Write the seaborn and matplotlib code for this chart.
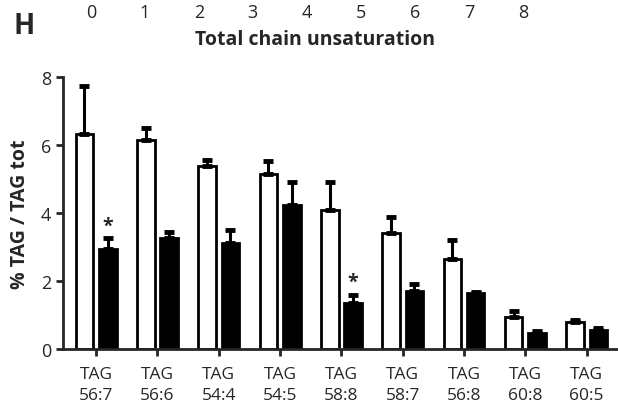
import numpy as np
import pandas as pd
import matplotlib
matplotlib.use("Agg")
import matplotlib.pyplot as plt
import matplotlib.transforms as mtransforms
import seaborn as sns

# Values
species = ["56:7", "56:6", "54:4", "54:5", "58:8", "58:7", "56:8", "60:8", "60:5"]
ctrl_mean = [6.32, 6.15, 5.38, 5.15, 4.09, 3.41, 2.65, 0.94, 0.79]
ctrl_err = [1.42, 0.35, 0.18, 0.38, 0.82, 0.47, 0.55, 0.18, 0.06]
treat_mean = [2.94, 3.26, 3.12, 4.24, 1.35, 1.71, 1.65, 0.47, 0.56]
treat_err = [0.32, 0.18, 0.38, 0.67, 0.24, 0.20, 0.02, 0.06, 0.06]
signif = [True, False, False, False, True, False, False, False, False]
unsat_ticks = [0, 1, 2, 3, 4, 5, 6, 7, 8]

sns.set_style("ticks")
plt.rcParams["font.family"] = ["Open Sans", "DejaVu Sans"]

labels = ["TAG\n" + s for s in species]
df = pd.DataFrame({
    "species": labels * 2,
    "value": ctrl_mean + treat_mean,
    "group": ["ctrl"] * len(labels) + ["treat"] * len(labels),
})

fig = plt.figure(figsize=(6.18, 4.10), dpi=100)
ax = fig.add_axes([0.102, 0.146, 0.896, 0.664])

sns.barplot(data=df, x="species", y="value", hue="group",
            palette={"ctrl": "white", "treat": "black"},
            width=0.76, gap=0.25, edgecolor="black", linewidth=2,
            errorbar=None, legend=False, ax=ax)

# upward-only error bars, drawn at the bar centres
for cont, errs in zip(ax.containers, [ctrl_err, treat_err]):
    xs = [p.get_x() + p.get_width() / 2 for p in cont.patches]
    ys = [p.get_height() for p in cont.patches]
    ax.errorbar(xs, ys, yerr=[np.zeros(len(errs)), errs], fmt="none",
                ecolor="black", elinewidth=2.2, capsize=3.5, capthick=3.5,
                zorder=1)

for p, e, s in zip(ax.containers[1].patches, treat_err, signif):
    if s:
        ax.text(p.get_x() + p.get_width() / 2, p.get_height() + e + 0.08, "*",
                ha="center", va="bottom", fontsize=14, fontweight="bold")

ax.set_ylim(0, 8)
ax.set_xlim(-0.54, 8.49)
ax.set_yticks([0, 2, 4, 6, 8])
ax.set_xlabel("")
ax.set_ylabel("% TAG / TAG tot", fontsize=14, fontweight="bold", labelpad=8)
ax.tick_params(axis="both", labelsize=13, width=2, length=5, direction="out")
ax.tick_params(axis="x", labelsize=12.5, pad=7)
for lab in ax.get_xticklabels():
    lab.set_linespacing(1.4)
for side in ["left", "bottom"]:
    ax.spines[side].set_linewidth(2)
sns.despine(ax=ax)

# top scale: total chain unsaturation
top = fig.add_axes([0.147, 0.945, 0.699, 0.001])
top.set_xlim(0, 8)
top.set_xticks(unsat_ticks)
top.set_xticklabels([str(t) for t in unsat_ticks])
top.set_yticks([])
top.tick_params(axis="x", length=0, labelsize=13, pad=0, labeltop=True,
                labelbottom=False)
for s in top.spines.values():
    s.set_visible(False)
top.set_xlabel("Total chain unsaturation", fontsize=14, fontweight="bold",
               va="center")
top.xaxis.set_label_coords(
    0.519, 0.902,
    transform=mtransforms.blended_transform_factory(top.transAxes, fig.transFigure))
top.patch.set_alpha(0)

fig.text(0.022, 0.935, "H", fontsize=20, fontweight="bold", va="center")

fig.savefig("out.png", dpi=100)
